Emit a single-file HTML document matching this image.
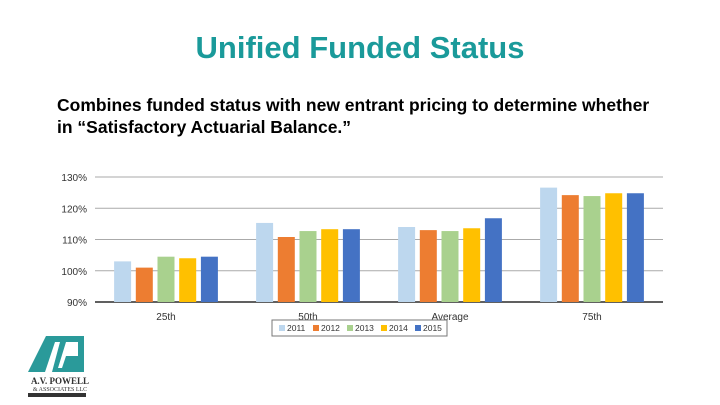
<!DOCTYPE html>
<html><head><meta charset="utf-8"><style>
body{margin:0;width:720px;height:405px;background:#fff;overflow:hidden;font-family:"Liberation Sans",sans-serif;position:relative}
#title{position:absolute;top:30px;left:0;width:720px;text-align:center;font-size:31px;font-weight:bold;color:#1a9a9a}
#sub{position:absolute;top:94px;left:57px;font-size:17.5px;font-weight:bold;color:#000;line-height:22px}
svg{position:absolute;left:0;top:0}
</style></head><body>
<div id="title">Unified Funded Status</div>
<div id="sub">Combines funded status with new entrant pricing to determine whether<br>in “Satisfactory Actuarial Balance.”</div>
<svg id="chart" width="720" height="405"></svg>
<svg width="120" height="85" style="left:0;top:320px">
<polygon points="28,52 46,16 84,16 84,52" fill="#2a9a9a"/>
<polygon points="45,52 55,22 60,22 52,52" fill="#fff"/>
<polygon points="58,48 66,22 78,22 78,36 66,36 62,48" fill="#fff"/>
<text x="60" y="64" font-size="9" text-anchor="middle" font-family="Liberation Serif" font-weight="bold" fill="#333">A.V. POWELL</text>
<text x="60" y="71" font-size="6" text-anchor="middle" font-family="Liberation Serif" fill="#333">&amp; ASSOCIATES LLC</text>
<rect x="28" y="73" width="58" height="4" fill="#333"/>
</svg>
<script>
const categories=["25th","50th","Average","75th"];
const seriesNames=["2011","2012","2013","2014","2015"];
const s2011=[103,115.3,114,126.6];
const s2012=[101,110.8,113,124.2];
const s2013=[104.5,112.7,112.7,123.9];
const s2014=[104,113.3,113.6,124.8];
const s2015=[104.5,113.3,116.8,124.8];
const yTicks=[90,100,110,120,130];
const colors=["#bdd7ee","#ed7d31","#a9d18e","#ffc000","#4472c4"];
const series=[s2011,s2012,s2013,s2014,s2015];
const svg=document.getElementById('chart');const NS='http://www.w3.org/2000/svg';
const x0=95,x1=663,yTop=177,yBot=302;
const y=v=>yBot-(v-90)/40*(yBot-yTop);
const gw=(x1-x0)/categories.length;
function mk(t,a){const e=document.createElementNS(NS,t);for(const k in a)e.setAttribute(k,a[k]);svg.appendChild(e);return e;}
yTicks.forEach(t=>{
 const l=mk('line',{x1:x0,x2:x1,y1:y(t),y2:y(t),stroke:t===90?'#000':'#aaa','stroke-width':t===90?1.3:1});
 
 
 const tx=mk('text',{x:x0-8,y:y(t)+4,'font-size':10,'text-anchor':'end',fill:'#333'});tx.textContent=t+'%';
 
 
});
const bw=17,step=21.7;
categories.forEach((c,i)=>{
 const cx=x0+gw*(i+0.5);
 series.forEach((s,j)=>{
  const bx=cx-step*2-bw/2+step*j;
  const r=mk('rect',{x:bx,y:y(s[i]),width:bw,height:yBot-y(s[i]),fill:colors[j]});
  
  
 });
 const t=mk('text',{x:cx,y:320,'font-size':10,'text-anchor':'middle',fill:'#333'});t.textContent=c;
 
 
});
const lg=mk('rect',{x:272,y:320,width:175,height:16,fill:'#fff',stroke:'#777','stroke-width':1});


seriesNames.forEach((n,j)=>{
 const lx=279+j*34;
 const sq=mk('rect',{x:lx,y:325,width:6,height:6,fill:colors[j]});
 
 
 const t=mk('text',{x:lx+8,y:331,'font-size':8.5,fill:'#333'});t.textContent=n;
 
 
});
</script>
</body></html>
